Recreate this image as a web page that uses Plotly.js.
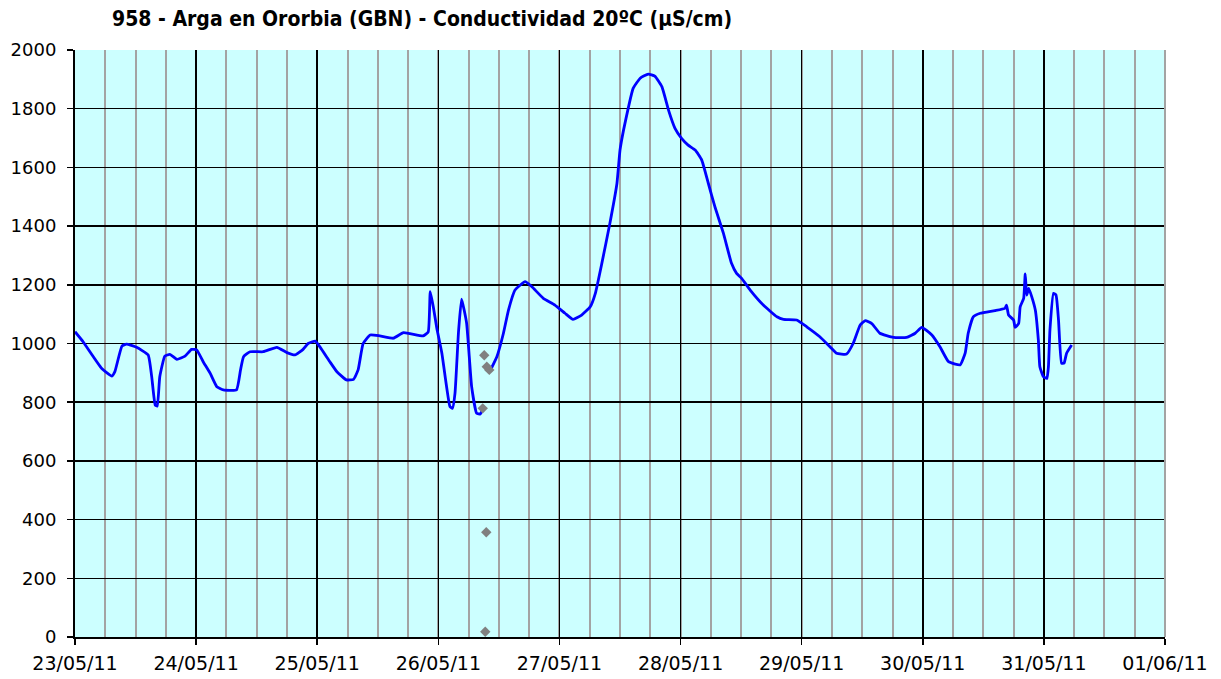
<!DOCTYPE html>
<html>
<head>
<meta charset="utf-8">
<script src="https://cdn.plot.ly/plotly-3.0.1.min.js"></script>
<style>
html,body{margin:0;padding:0;background:#fff;}
#chart{width:1221px;height:679px;}
</style>
</head>
<body>
<div id="chart"></div>
<script>
// hours since 23/05/11 00:00
const lineHours = [0,1.6,5.3,7.3,7.9,9.3,10.2,12.2,14.5,15.2,15.9,16.3,16.8,17.8,18.8,20.2,21.8,23.1,24.1,25.4,26.8,28.1,29.4,32.0,32.8,33.4,34.7,37.3,40.0,42.0,43.6,45.2,46.2,47.6,48.6,50.5,51.9,53.8,55.2,56.1,57.1,58.5,60.4,63.1,65.1,69.0,70.0,70.4,71.0,71.7,72.7,74.3,74.8,75.3,76.0,76.6,77.6,78.6,79.6,80.3,80.9,
  81.6,
  82.4,83.6,84.9,85.9,87.2,89.2,90.5,92.8,95.1,97.1,98.7,100.4,102.1,103.1,104.4,106.0,107.4,108.0,108.7,109.7,110.6,112.0,113.6,114.9,116.3,117.6,118.9,120.2,121.5,122.9,124.2,125.5,126.8,128.5,130.1,131.1,132.1,133.8,136.4,139.1,140.4,143.0,145.0,147.6,149.6,150.9,152.9,154.2,155.6,156.6,157.9,159.5,162.2,164.8,166.5,167.8,169.8,171.4,173.1,175.4,176.4,177.0,178.0,179.4,182.3,184.3,184.6,185.0,186.0,186.3,187.0,187.3,188.0,188.3,188.6,189.0,189.6,190.3,190.9,191.2,191.9,192.6,192.9,193.2,193.9,194.4,194.9,195.5,196.0,196.5,197.5];
const lineValues = [1040,1006,915,889,904,991,998,987,961,887,790,787,887,957,963,946,957,980,978,938,898,853,842,842,910,955,972,972,987,969,961,980,1000,1008,987,938,904,876,878,910,1000,1029,1026,1018,1037,1026,1040,1177,1125,1052,967,785,779,830,1040,1151,1070,853,762,760,779,
  null,
  912,955,1035,1114,1182,1211,1194,1154,1131,1103,1082,1097,1125,1170,1273,1410,1546,1659,1727,1807,1869,1904,1918,1911,1875,1796,1733,1699,1676,1659,1625,1546,1466,1375,1273,1239,1222,1182,1131,1091,1082,1080,1057,1023,989,967,964,1000,1063,1078,1068,1035,1021,1021,1035,1055,1029,989,938,927,967,1035,1091,1103,1112,1120,1131,1097,1080,1055,1068,1125,1154,1237,1165,1188,1159,1114,1012,921,887,881,921,1046,1171,1165,1080,933,933,967,995];

// isolated grey readings
const pointHours = [81.1,81.6,82.1,80.8,81.5,81.3];
const pointValues = [960,921,910,779,357,18];

const tickDates = ['2011-05-23','2011-05-24','2011-05-25','2011-05-26','2011-05-27','2011-05-28','2011-05-29','2011-05-30','2011-05-31','2011-06-01'];
const tickLabels = ['23/05/11','24/05/11','25/05/11','26/05/11','27/05/11','28/05/11','29/05/11','30/05/11','31/05/11','01/06/11'];

const titleText = '958 - Arga en Ororbia (GBN) - Conductividad 20ºC (µS/cm)';

const base = Date.UTC(2011,4,23);
function pad(n){return (n<10?'0':'')+n;}
function toDate(h){
  const d = new Date(base + Math.round(h*3600000));
  return d.getUTCFullYear()+'-'+pad(d.getUTCMonth()+1)+'-'+pad(d.getUTCDate())+' '+pad(d.getUTCHours())+':'+pad(d.getUTCMinutes())+':'+pad(d.getUTCSeconds());
}

const traces = [
  {
    x: lineHours.map(toDate), y: lineValues, type:'scatter', mode:'lines',
    line:{color:'#0000ff', width:2.8, shape:'spline', smoothing:0.4}, connectgaps:false, hoverinfo:'x+y'
  },
  {
    x: pointHours.map(toDate), y: pointValues, type:'scatter', mode:'markers',
    marker:{symbol:'diamond', color:'#808080', size:8}, hoverinfo:'x+y'
  }
];

const fam = 'DejaVu Sans, Verdana, sans-serif';

const layout = {
  width:1221, height:679,
  margin:{l:75, r:56, t:50, b:42, pad:0},
  paper_bgcolor:'#ffffff',
  plot_bgcolor:'#ccffff',
  showlegend:false,
  title:{
    text: titleText,
    font:{family:'DejaVu Sans Condensed, Liberation Sans Narrow, Arial Narrow, sans-serif', size:21, color:'#000', weight:'bold'},
    x: 112/1221, xref:'container', xanchor:'left',
    y: 1-19/679, yref:'container', yanchor:'middle'
  },
  xaxis:{
    type:'date',
    range:[tickDates[0], tickDates[tickDates.length-1]],
    tickmode:'array', tickvals:tickDates, ticktext:tickLabels,
    showgrid:true, gridcolor:'#000000', gridwidth:1.5,
    minor:{dtick:21600000, showgrid:true, gridcolor:'#a3a3a3', gridwidth:2, ticks:''},
    ticks:'outside', ticklen:6, tickwidth:1.5, tickcolor:'#000',
    showline:true, linecolor:'#000', linewidth:2,
    tickfont:{family:fam, size:19, color:'#000'}, ticklabelstandoff:2,
    zeroline:false, fixedrange:true
  },
  yaxis:{
    range:[0,2000], dtick:200, tick0:0,
    showgrid:true, gridcolor:'#000000', gridwidth:1.5,
    ticks:'outside', ticklen:6, tickwidth:1.5, tickcolor:'#000',
    showline:true, linecolor:'#000', linewidth:2,
    tickfont:{family:fam, size:18, color:'#000'}, ticklabelstandoff:7,
    zeroline:false, fixedrange:true
  },
  shapes:[
    {type:'line', xref:'paper', yref:'paper', x0:1, x1:1, y0:0, y1:1, line:{color:'#a3a3a3', width:2}}
  ]
};

Plotly.newPlot('chart', traces, layout, {displayModeBar:false, staticPlot:true});
</script>
</body>
</html>
